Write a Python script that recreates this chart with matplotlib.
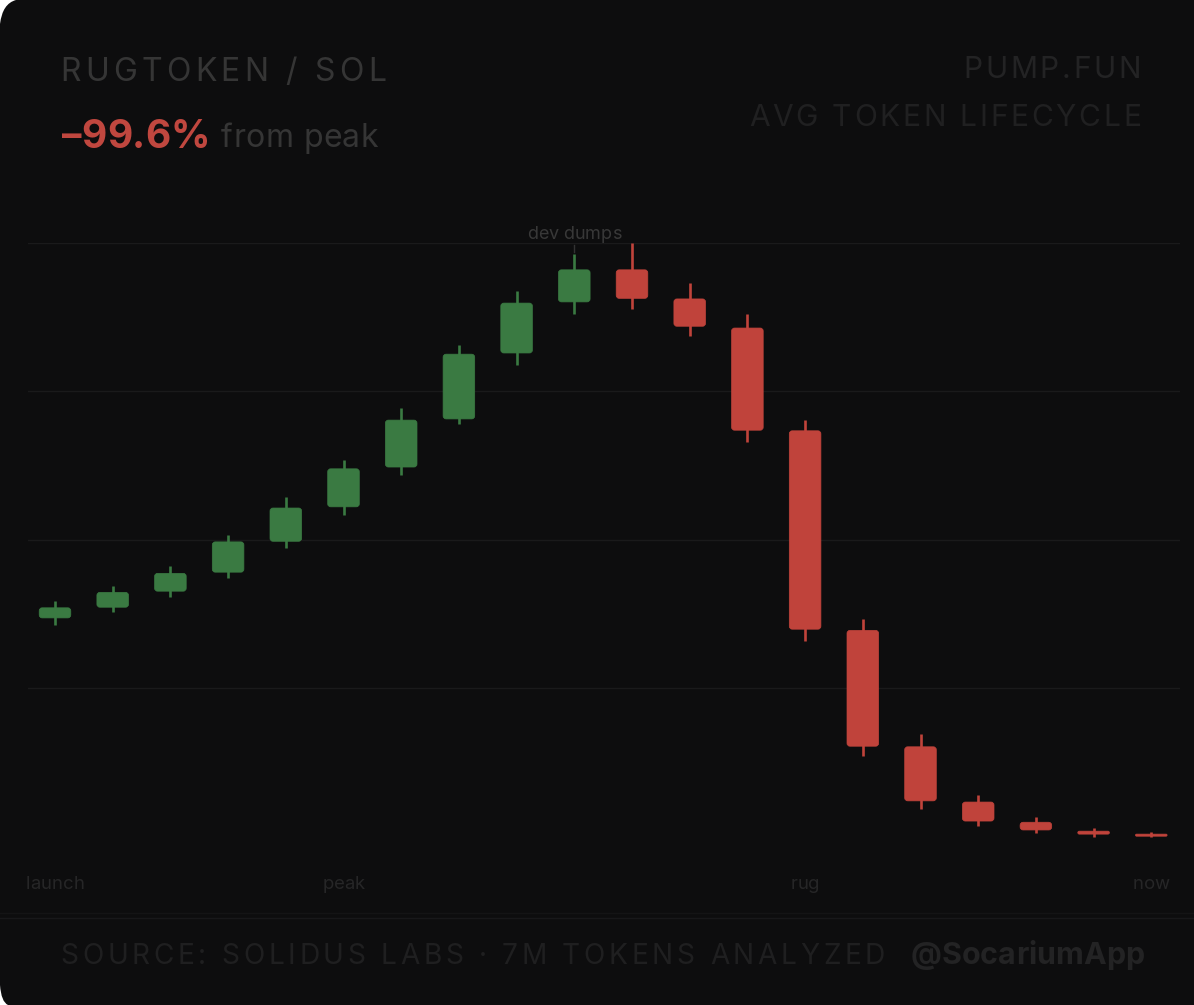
import matplotlib
matplotlib.use('Agg')
from matplotlib import pyplot as plt
from matplotlib import font_manager
from matplotlib.ft2font import LoadFlags
from matplotlib.patches import FancyBboxPatch, PathPatch
from matplotlib.path import Path
from matplotlib.text import Text
from matplotlib.transforms import IdentityTransform

# --- DATA (price as % of the peak) ---
OPENS = [36.8, 38.6, 41.3, 44.5, 49.7, 55.5, 62.2, 70.3, 81.4, 90.0,
         95.4, 90.5, 85.6, 68.3, 34.7, 15.1, 5.8, 2.4, 0.9, 0.05]
CLOSES = [38.5, 41.1, 44.3, 49.6, 55.3, 61.9, 70.1, 81.2, 89.8, 95.4,
          90.6, 85.9, 68.4, 34.9, 15.2, 6.0, 2.6, 1.1, 0.4, 0.4]
HIGHS = [39.6, 42.2, 45.5, 50.7, 57.1, 63.4, 72.1, 82.7, 91.8, 98.0,
         100.0, 93.2, 87.9, 70.1, 36.6, 17.2, 7.0, 3.3, 1.4, 0.7]
LOWS = [35.6, 37.8, 40.3, 43.5, 48.6, 54.1, 60.8, 69.4, 79.4, 87.9,
        88.8, 84.2, 66.4, 32.9, 13.5, 4.6, 1.8, 0.6, 0.0, 0.0]
GRID_VALUES = [25, 50, 75, 100]
TIME_LABELS = ['launch', 'peak', 'rug', 'now']
TIME_POSITIONS = [0, 5, 13, 19]
# the last candle closes red even though it is drawn almost flat
UP_CANDLES = 10

# --- STYLE ---
W, H = 1194, 1005
BG = '#0d0d0e'
GREEN = '#3a7a42'
RED = '#c0433b'
FONT = 'Inter'


def px(size):
    # css-ish pixel size to points at dpi 100
    return size * 0.72


class SpacedText(Text):
    """Text with letter spacing, placed in pixels measured from the top left."""

    def __init__(self, x, y, s, spacing=0.0, **kw):
        super().__init__(x, H - y, s, transform=IdentityTransform(), va='baseline', **kw)
        self.spacing = spacing

    def draw(self, renderer):
        props = self.get_fontproperties()
        font = font_manager.get_font(font_manager.findfont(props))
        font.set_size(props.get_size_in_points(), self.get_figure().dpi)
        s = self.get_text()
        advances = []
        for c in s:
            glyph = font.load_char(ord(c), flags=LoadFlags.NO_HINTING)
            advances.append(glyph.linearHoriAdvance / 65536 + self.spacing)
        x, y = self.get_position()
        total = sum(advances) - self.spacing
        if self.get_ha() == 'right':
            x -= total
        elif self.get_ha() == 'center':
            x -= total / 2
        for c, adv in zip(s, advances):
            t = Text(x, y, c, transform=IdentityTransform(), va='baseline', ha='left',
                     color=self.get_color(), fontproperties=props)
            t.set_figure(self.get_figure())
            t.draw(renderer)
            x += adv


def add_text(fig, x, y, s, size, color, spacing=0.0, ha='left', weight='normal'):
    t = SpacedText(x, y, s, spacing=spacing, color=color, ha=ha,
                   family=FONT, weight=weight, fontsize=px(size))
    fig.add_artist(t)
    return t


def add_corner(fig, cy, sy, a, b):
    # white wedge left by the rounded corner of the card
    verts = [(0, cy), (a, cy), (0.15 * a, cy + sy * 0.15 * b), (0, cy + sy * b), (0, cy)]
    codes = [Path.MOVETO, Path.LINETO, Path.CURVE3, Path.CURVE3, Path.CLOSEPOLY]
    fig.add_artist(PathPatch(Path(verts, codes), fc='white', ec='none',
                             transform=IdentityTransform()))


fig = plt.figure(figsize=(W / 100, H / 100), dpi=100, facecolor=BG)

add_corner(fig, H, -1, 16, 24)
add_corner(fig, 0, 1, 8, 20)

# axes: x is the candle index, y is % of the peak, grid spans 28..1180 px
x_unit = 57.7
y_unit = 5.94
ax = fig.add_axes([28 / W, (H - 836.5) / H, (1180 - 28) / W, 594 / H])
ax.set_xlim((28 - 55) / x_unit, (1180 - 55) / x_unit)
ax.set_ylim(0, 100)
ax.patch.set_visible(False)
for spine in ax.spines.values():
    spine.set_visible(False)
ax.set_xticks([])
ax.set_yticks(GRID_VALUES)
ax.tick_params(left=False, labelleft=False)
ax.grid(True, axis='y', color='#1a1a1b', linewidth=1.0)
ax.set_axisbelow(True)

body_w = 31.6 / x_unit
for i, (o, c, hi, lo) in enumerate(zip(OPENS, CLOSES, HIGHS, LOWS)):
    color = GREEN if i < UP_CANDLES else RED
    ax.plot([i, i], [lo, hi], color=color, linewidth=1.9, solid_capstyle='butt',
            clip_on=False, zorder=3)
    bottom = min(o, c)
    height = abs(c - o)
    radius_px = min(3.0, height * y_unit / 2)
    ax.add_patch(FancyBboxPatch((i - body_w / 2, bottom), body_w, height,
                                boxstyle=f'round,pad=0,rounding_size={radius_px / x_unit}',
                                mutation_aspect=x_unit / y_unit,
                                fc=color, ec=color, linewidth=0.5, zorder=4, clip_on=False))

# small marker under the annotation
ax.plot([9, 9], [HIGHS[9] + 0.4, 99.6], color='#333333', linewidth=1.0, clip_on=False)

# separators above the footer
for y, color in ((913, '#141415'), (918, '#18181a')):
    fig.add_artist(plt.Line2D([0, 1], [(H - y) / H] * 2, color=color, linewidth=1.0))

# --- TEXT ---
add_text(fig, 60.5, 81, 'RUGTOKEN / SOL', 32, '#353535', spacing=4.2)
add_text(fig, 62, 148, '\u201399.6%', 39, '#c0473f', weight='bold')
add_text(fig, 221, 147, 'from peak', 32, '#353535', spacing=0.4)
add_text(fig, 1141, 78, 'PUMP.FUN', 30, '#232324', spacing=2.7, ha='right')
add_text(fig, 1141, 126, 'AVG TOKEN LIFECYCLE', 30, '#202021', spacing=2.7, ha='right')
add_text(fig, 574, 239, 'dev dumps', 18, '#383838', ha='center')

for pos, label in zip(TIME_POSITIONS, TIME_LABELS):
    add_text(fig, 55 + pos * x_unit, 889, label, 18.5, '#262627', ha='center')

add_text(fig, 60.5, 964, 'SOURCE: SOLIDUS LABS \u00b7 7M TOKENS ANALYZED', 28, '#1f1f20', spacing=3.7)
add_text(fig, 1144, 964, '@SocariumApp', 30.4, '#232324', weight='bold', ha='right')

fig.savefig('out.png', dpi=100, facecolor=BG)
